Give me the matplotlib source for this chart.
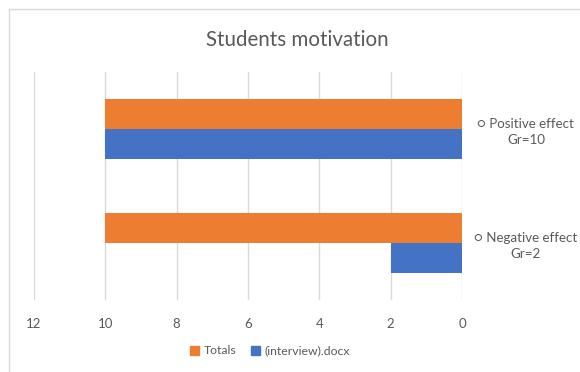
import numpy as np
import matplotlib.pyplot as plt
from matplotlib.lines import Line2D
from matplotlib.patches import Patch

plt.rcParams['font.family'] = ['Lato', 'DejaVu Sans']

# datos
categorias = ['\u25cb Negative effect\nGr=2', '\u25cb Positive effect\nGr=10']
totals = [10, 10]
interview = [2, 10]
xticks = [0, 2, 4, 6, 8, 10, 12]

naranja = '#ED7D31'
azul = '#4472C4'
gris = '#595959'

W, H = 580, 372
fig = plt.figure(figsize=(W / 100, H / 100), dpi=100)
ax = fig.add_axes([34 / W, (H - 300) / H, (462 - 34) / W, 228 / H])

y = np.arange(len(categorias))
h = 0.26
ax.barh(y + h / 2, totals, height=h, color=naranja, label='Totals', zorder=3)
ax.barh(y - h / 2, interview, height=h, color=azul, label='(interview).docx', zorder=3)

ax.set_xlim(12, 0)
ax.set_ylim(-0.5, 1.5)
ax.set_xticks(xticks)
ax.set_xticklabels([str(v) for v in xticks], fontsize=9.5, color=gris)
ax.tick_params(axis='x', length=0, pad=13)
ax.grid(True, axis='x', color='#d9d9d9', linewidth=1, zorder=0)

ax.yaxis.tick_right()
ax.set_yticks(y)
ax.set_yticklabels(categorias, fontsize=9.6, color=gris, ha='center', linespacing=1.35)
ax.tick_params(axis='y', length=0, pad=46)

for s in ax.spines.values():
    s.set_visible(False)

fig.text(297 / W, 1 - 40 / H, 'Students motivation', fontsize=14.8, color=gris,
         ha='center', va='center')

handles = [Patch(color=naranja, label='Totals'), Patch(color=azul, label='(interview).docx')]
fig.legend(handles=handles, loc='center', bbox_to_anchor=(270 / W, 1 - 351 / H),
           ncol=2, frameon=False, fontsize=8.8, handlelength=0.7, handleheight=0.7,
           handletextpad=0.4, columnspacing=1.2, labelcolor=gris)

# borde del grafico
fig.add_artist(Line2D([9 / W, 9 / W], [0, 1 - 9 / H], color='#d9d9d9', linewidth=1))
fig.add_artist(Line2D([9 / W, 1], [1 - 9 / H, 1 - 9 / H], color='#d9d9d9', linewidth=1))

plt.savefig('out.png', dpi=100)
